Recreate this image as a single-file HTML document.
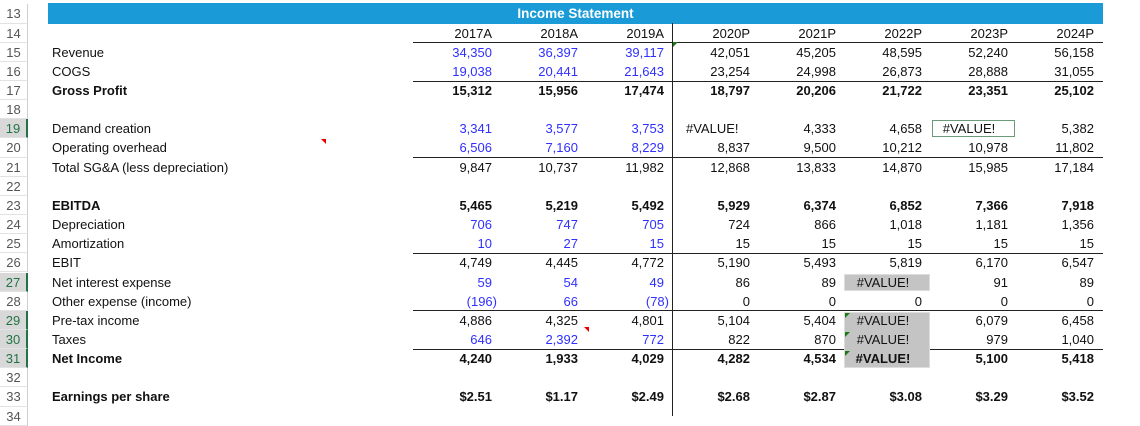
<!DOCTYPE html>
<html><head><meta charset="utf-8"><style>
body{margin:0;width:1140px;height:416px;background:#fff;overflow:hidden;position:relative;font-family:"Liberation Sans",Arial,sans-serif;font-size:13px;color:#111}
.a{position:absolute;white-space:nowrap}
.rh{position:absolute;left:0;width:28px;text-align:center;color:#555;font-size:13px;border-bottom:1px solid #e2e2e2;border-right:1px solid #cfcfcf;box-sizing:border-box}
.rh.sel{background:#d8d8d8;color:#217346;border-right:2px solid #217346}
.hl{position:absolute;height:1px;background:#222}
.b{font-weight:bold}
.blue{color:#2f2fff}
</style></head><body>
<div class="a" style="left:48px;top:3px;width:1055px;height:21px;background:#1a9bd7"></div>
<div class="a b" style="left:48px;top:6px;width:1055px;text-align:center;color:#fff;font-size:13.5px">Income Statement</div>
<div class="a" style="left:672px;top:23px;width:1px;height:393px;background:#222"></div>
<script>
const rowsNum=[13,14,15,16,17,18,19,20,21,22,23,24,25,26,27,28,29,30,31,32,33,34];
const selRows=[19,27,29,30,31];
const years=["2017A","2018A","2019A","2020P","2021P","2022P","2023P","2024P"];
const rightEdges=[492,578,664,750,836,922,1008,1094];
const labels={15:"Revenue",16:"COGS",17:"Gross Profit",19:"Demand creation",20:"Operating overhead",21:"Total SG&A (less depreciation)",23:"EBITDA",24:"Depreciation",25:"Amortization",26:"EBIT",27:"Net interest expense",28:"Other expense (income)",29:"Pre-tax income",30:"Taxes",31:"Net Income",33:"Earnings per share"};
const boldRows=[17,23,31,33];
const blueRows=[15,16,19,20,24,25,27,28,30];
const values={
15:["34,350","36,397","39,117","42,051","45,205","48,595","52,240","56,158"],
16:["19,038","20,441","21,643","23,254","24,998","26,873","28,888","31,055"],
17:["15,312","15,956","17,474","18,797","20,206","21,722","23,351","25,102"],
19:["3,341","3,577","3,753","#VALUE!","4,333","4,658","#VALUE!","5,382"],
20:["6,506","7,160","8,229","8,837","9,500","10,212","10,978","11,802"],
21:["9,847","10,737","11,982","12,868","13,833","14,870","15,985","17,184"],
23:["5,465","5,219","5,492","5,929","6,374","6,852","7,366","7,918"],
24:["706","747","705","724","866","1,018","1,181","1,356"],
25:["10","27","15","15","15","15","15","15"],
26:["4,749","4,445","4,772","5,190","5,493","5,819","6,170","6,547"],
27:["59","54","49","86","89","#VALUE!","91","89"],
28:["(196)","66","(78)","0","0","0","0","0"],
29:["4,886","4,325","4,801","5,104","5,404","#VALUE!","6,079","6,458"],
30:["646","2,392","772","822","870","#VALUE!","979","1,040"],
31:["4,240","1,933","4,029","4,282","4,534","#VALUE!","5,100","5,418"],
33:["$2.51","$1.17","$2.49","$2.68","$2.87","$3.08","$3.29","$3.52"]};
const lineRows=[15,17,21,26,29,31];
const RH=19.15, top0=4.4;
function ry(r){return top0+(r-13)*RH;}
const B=document.body;
function mk(cls,name,css,txt){const d=document.createElement('div');d.className=cls;d.style.cssText=css;if(txt!==undefined)d.textContent=txt;


B.appendChild(d);return d;}
rowsNum.forEach(r=>{const d=mk('rh'+(selRows.includes(r)?' sel':''),'row-header-'+r,`top:${ry(r)}px;height:${RH}px;line-height:${RH}px`,String(r));});
lineRows.forEach(r=>{mk('hl','row-border-'+r,`left:413px;width:690px;top:${ry(r)-0.5}px`);});
// gray boxes
mk('a','error-cell-27',`left:844px;width:86px;top:${ry(27)+1}px;height:${RH-2}px;background:#c4c4c4;border:1px solid #ddd;box-sizing:border-box`);
mk('a','error-cells-29-31',`left:844px;width:86px;top:${ry(29)+1}px;height:${RH*3-1}px;background:#c4c4c4;border:1px solid #ddd;box-sizing:border-box`);
mk('a','selected-cell',`left:932px;width:83px;top:${ry(19)+1}px;height:${RH-2}px;border:1.5px solid #6a9a7a;box-sizing:border-box`);
Object.keys(labels).forEach(k=>{const r=+k;const d=mk('a'+(boldRows.includes(r)?' b':''),'label-row-'+r,`left:52px;top:${ry(r)+2}px`,labels[k]);});
years.forEach((y,i)=>{mk('a','year-'+y,`left:${rightEdges[i]-80}px;width:80px;text-align:right;top:${ry(14)+2}px`,y);});
Object.keys(values).forEach(k=>{const r=+k;values[k].forEach((v,i)=>{
 let cls='a'+(boldRows.includes(r)?' b':'')+(blueRows.includes(r)&&i<3?' blue':'');
 let css=`top:${ry(r)+2}px;`;
 if(v==="#VALUE!"){
  if(r===19&&i===3) css+=`left:686px;`;
  else css+=`left:${rightEdges[i]-78}px;width:78px;text-align:center;`;
 } else {
  let re=rightEdges[i]+(v.endsWith(')')?5:0);
  css+=`left:${re-80}px;width:80px;text-align:right;`;
 }
 mk(cls,'value-'+r+'-'+years[i],css,v);
});});
// triangles
function tri(name,x,y,color,dir){const d=mk('a',name,`left:${x}px;top:${y}px;width:0;height:0;border-top:5px solid ${color};`+(dir==='r'?'border-left:5px solid transparent':'border-right:5px solid transparent'));}
tri('comment-flag-1',321,139,'#e00','r');
tri('comment-flag-2',584,327,'#e00','r');
tri('green-flag-1',673,42,'#1a7a1a','l');
tri('green-flag-2',845,313,'#1a7a1a','l');
tri('green-flag-3',845,332,'#1a7a1a','l');
tri('green-flag-4',845,351,'#1a7a1a','l');
</script>
</body></html>
